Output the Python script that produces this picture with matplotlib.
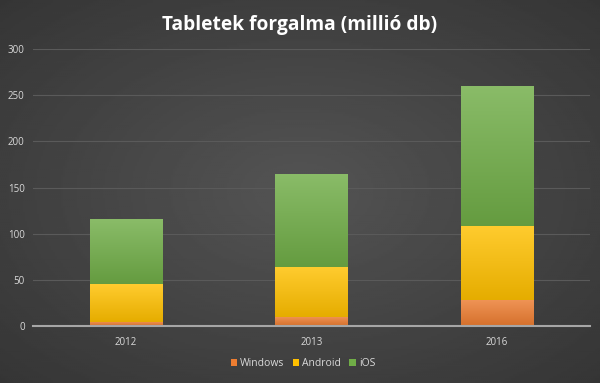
import numpy as np
import matplotlib
matplotlib.use("Agg")
import matplotlib.pyplot as plt
from matplotlib.colors import to_rgb

years = ["2012", "2013", "2016"]
windows = [5, 10, 29]
android = [41, 54, 79]
ios = [70, 101, 152]
series_names = ["Windows", "Android", "iOS"]
colors = ["#ED7D31", "#FFC000", "#70AD47"]
yticks = [0, 50, 100, 150, 200, 250, 300]

plt.rcParams['font.family'] = ['Open Sans', 'DejaVu Sans']

fig = plt.figure(figsize=(6.0, 3.83), dpi=100)
# radial gradient background
bg = fig.add_axes([0, 0, 1, 1], zorder=-10)
yy, xx = np.mgrid[-1:1:200j, -1:1:300j]
r = np.sqrt(xx**2 + yy**2)
bg.imshow(0.33 - 0.12 * np.clip(r / 1.4, 0, 1), cmap="gray", vmin=0, vmax=1,
          aspect="auto", extent=[0, 1, 0, 1])
bg.axis("off")

ax = fig.add_axes([0.055, 0.148, 0.928, 0.724])
ax.set_facecolor("none")
x = np.arange(len(years))
w = 0.39
bottoms = np.zeros(len(years))
for vals, c, name in zip([windows, android, ios], colors, series_names):
    bars = ax.bar(x, vals, w, bottom=bottoms, color=c, label=name, zorder=3,
                  edgecolor="none")
    base = np.array(to_rgb(c))
    top = base + (1 - base) * 0.18
    bot = base * 0.90
    grad = np.linspace(0, 1, 64)[:, None, None]
    img = bot * (1 - grad) + top * grad  # row 0 = bottom
    for b in bars:
        bx, by = b.get_x(), b.get_y()
        bw, bh = b.get_width(), b.get_height()
        im = ax.imshow(img, origin="lower", aspect="auto",
                       extent=[bx, bx + bw, by, by + bh], zorder=4,
                       interpolation="bilinear")
        im.set_clip_path(b)
    bottoms += np.array(vals)

ax.set_xlim(-0.5, len(years) - 0.5)
ax.set_ylim(0, 300)
ax.set_yticks(yticks)
ax.set_xticks(x)
ax.set_xticklabels(years)
ax.tick_params(colors="#d9d9d9", labelsize=7, length=0)
ax.tick_params(axis="y", pad=6)
ax.tick_params(axis="x", pad=8)
ax.grid(axis="y", color="#5a5a5a", linewidth=0.8, zorder=0)
for s in ["top", "right", "left"]:
    ax.spines[s].set_visible(False)
ax.spines["bottom"].set_color("#a6a6a6")
ax.spines["bottom"].set_linewidth(1.5)
ax.spines["bottom"].set_zorder(5)

fig.text(0.5, 0.935, "Tabletek forgalma (millió db)", ha="center", va="center",
         color="white", fontsize=13.8, fontweight="bold")

handles, labels = ax.get_legend_handles_labels()
leg = fig.legend(handles, labels, loc="center", bbox_to_anchor=(0.505, 0.05),
                 ncol=3, frameon=False, fontsize=7.5, handlelength=0.6,
                 handleheight=0.6, handletextpad=0.3, columnspacing=0.8)
for t in leg.get_texts():
    t.set_color("#d9d9d9")

fig.savefig("out.png", dpi=100)
